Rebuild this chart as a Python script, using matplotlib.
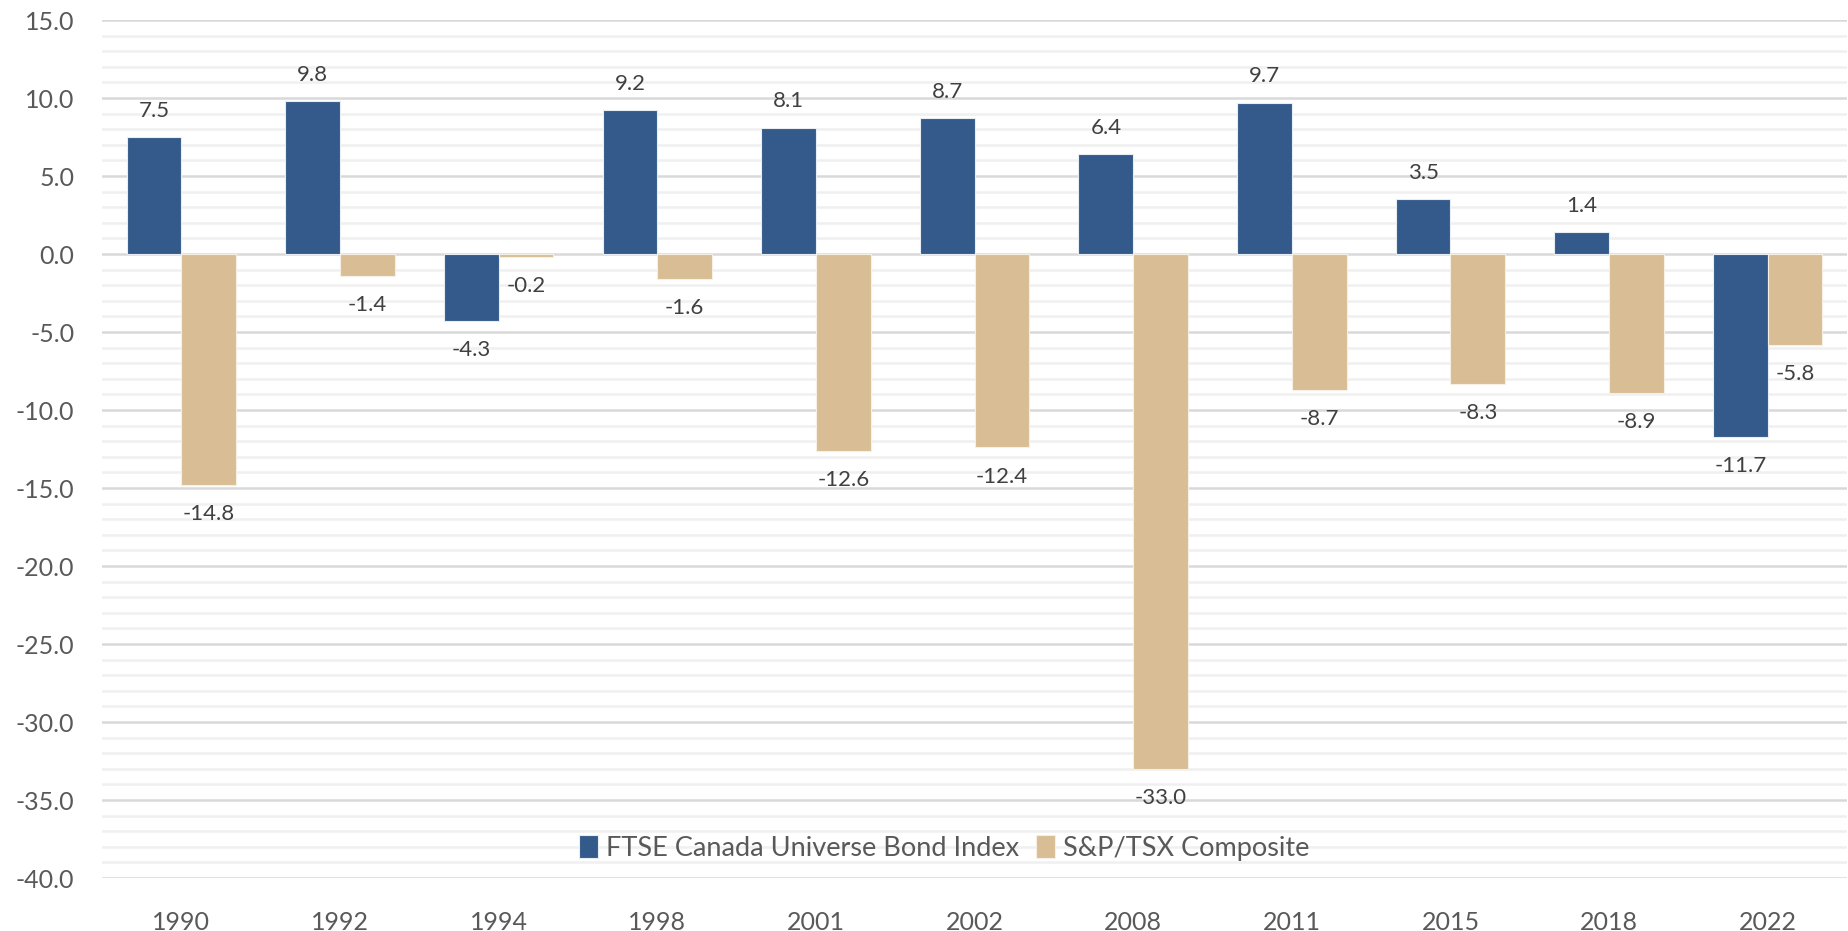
import numpy as np
import matplotlib
matplotlib.use('Agg')
import matplotlib.pyplot as plt
from matplotlib.ticker import MultipleLocator

years = ['1990', '1992', '1994', '1998', '2001', '2002', '2008', '2011', '2015', '2018', '2022']
bond = [7.5, 9.8, -4.3, 9.2, 8.1, 8.7, 6.4, 9.7, 3.5, 1.4, -11.7]
tsx = [-14.8, -1.4, -0.2, -1.6, -12.6, -12.4, -33.0, -8.7, -8.3, -8.9, -5.8]
series_names = ['FTSE Canada Universe Bond Index', 'S&P/TSX Composite']

plt.rcParams['font.family'] = ['Lato', 'DejaVu Sans']
blue = '#345a8b'
tan = '#d9be95'
grey_txt = '#595959'

fig = plt.figure(figsize=(18.48, 9.31), dpi=100)
ax = fig.add_axes([0.0552, 0.0569, 0.9443, 0.9216])

x = np.arange(len(years))
w = 0.345
b1 = ax.bar(x - w / 2, bond, w, color=blue, edgecolor='#e8edf4', linewidth=0.8, label=series_names[0], zorder=3)
b2 = ax.bar(x + w / 2, tsx, w, color=tan, edgecolor='#f5efe4', linewidth=0.8, label=series_names[1], zorder=3)

# data labels
for bars, vals in ((b1, bond), (b2, tsx)):
    for rect, v in zip(bars, vals):
        cx = rect.get_x() + rect.get_width() / 2
        off = 19 if v >= 0 else -21
        ax.annotate(f'{v:.1f}', (cx, v), xytext=(0, off), textcoords='offset points',
                    ha='center', va='center', fontsize=16, color='#404040')

ax.set_ylim(-40, 15)
ax.set_xlim(-0.5, len(years) - 0.5)
ax.yaxis.set_major_locator(MultipleLocator(5))
ax.yaxis.set_minor_locator(MultipleLocator(1))
ax.set_yticks(np.arange(-40, 16, 5))
ax.set_yticklabels([f'{v:.1f}' for v in np.arange(-40, 16, 5)])
ax.set_xticks(x)
ax.set_xticklabels(years)

ax.grid(axis='y', which='major', color='#d9d9d9', linewidth=1.8, zorder=0)
ax.grid(axis='y', which='minor', color='#f0f0f0', linewidth=1.8, zorder=0)
ax.set_axisbelow(True)
for s in ax.spines.values():
    s.set_visible(False)
ax.tick_params(axis='both', which='both', length=0, colors=grey_txt, labelsize=18)
ax.tick_params(axis='x', pad=24)
ax.tick_params(axis='y', pad=20)

leg = ax.legend(loc='center', bbox_to_anchor=(0.511, 0.089), bbox_transform=fig.transFigure,
                ncol=2, frameon=False, fontsize=19.5, handlelength=0.7, handleheight=0.9,
                handletextpad=0.3, columnspacing=0.6)
for t in leg.get_texts():
    t.set_color(grey_txt)

fig.savefig('out.png', dpi=100)
